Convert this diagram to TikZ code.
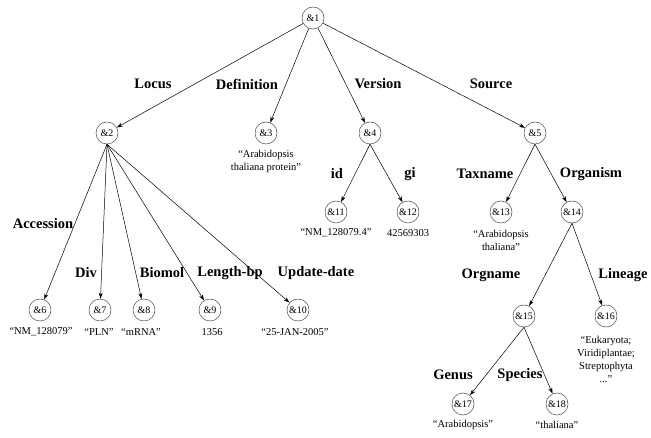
\documentclass[tikz,border=0pt]{standalone}
\usepackage{fontspec}
\setmainfont{Liberation Serif}
\usetikzlibrary{arrows.meta}

\tikzset{
  obj/.style={circle, draw=black!70, line width=0.5pt, minimum size=22pt, inner sep=0pt, font=\fontsize{10}{12}\selectfont},
  lbl/.style={font=\bfseries\fontsize{14.5}{16}\selectfont, inner sep=0pt},
  val/.style={font=\fontsize{10.5}{13}\selectfont, align=center, inner sep=0pt},
  edge/.style={line width=0.5pt, -{Stealth[length=6pt, width=4pt]}}
}

\begin{document}
\begin{tikzpicture}[x=1pt, y=-1pt]
\useasboundingbox (0,0) rectangle (651,438);
% objects
\node[obj] (n1) at (313,18) {\&1};
\node[obj] (n2) at (107,133) {\&2};
\node[obj] (n3) at (266,133) {\&3};
\node[obj] (n4) at (370,133) {\&4};
\node[obj] (n5) at (535,133) {\&5};
\node[obj] (n6) at (40,310) {\&6};
\node[obj] (n7) at (100,310) {\&7};
\node[obj] (n8) at (144,310) {\&8};
\node[obj] (n9) at (210,310) {\&9};
\node[obj] (n10) at (298,310) {\&10};
\node[obj] (n11) at (336,212) {\&11};
\node[obj] (n12) at (408,212) {\&12};
\node[obj] (n13) at (501,212) {\&13};
\node[obj] (n14) at (572,212) {\&14};
\node[obj] (n15) at (524,316) {\&15};
\node[obj] (n16) at (606,316) {\&16};
\node[obj] (n17) at (463,404) {\&17};
\node[obj] (n18) at (557,404) {\&18};
% values
\node[val] (v3) at (266,161.5) {“Arabidopsis\\thaliana protein”};
\node[val] (v6) at (41,332) {“NM\_128079”};
\node[val] (v7) at (99,332) {“PLN”};
\node[val] (v8) at (141,332) {“mRNA”};
\node[val] (v9) at (212,332) {1356};
\node[val] (v10) at (295,332) {“25-JAN-2005”};
\node[val] (v11) at (336,233) {“NM\_128079.4”};
\node[val] (v12) at (408,233) {42569303};
\node[val] (v13) at (501,240.5) {“Arabidopsis\\thaliana”};
\node[val] (v16) at (606,359) {“Eukaryota;\\Viridiplantae;\\Streptophyta\\...”};
\node[val] (v17) at (463,425) {“Arabidopsis”};
\node[val] (v18) at (557,425) {“thaliana”};
% edges
\draw[edge] (n1) -- (n2);
\draw[edge] (n1) -- (n3);
\draw[edge] (n1) -- (n4);
\draw[edge] (n1) -- (n5);
\foreach \c in {6,7,8,9,10}
  \draw[edge] (n2.south) -- (n\c);
\draw[edge] (n4.south) -- (n11);
\draw[edge] (n4.south) -- (n12);
\draw[edge] (n5.south) -- (n13);
\draw[edge] (n5.south) -- (n14);
\draw[edge] (n14.south) -- (n15);
\draw[edge] (n14.south) -- (n16);
\draw[edge] (n15.south) -- (n17);
\draw[edge] (n15.south) -- (n18);
% edge labels
\node[lbl] (lLocus) at (153,84) {Locus};
\node[lbl] (lDef) at (247,84) {Definition};
\node[lbl] (lVer) at (378,84) {Version};
\node[lbl] (lSrc) at (491,84) {Source};
\node[lbl] (lAcc) at (43,224) {Accession};
\node[lbl] (lDiv) at (86,273) {Div};
\node[lbl] (lBio) at (162,273) {Biomol};
\node[lbl] (lLen) at (230,273) {Length-bp};
\node[lbl] (lUpd) at (316,273) {Update-date};
\node[lbl] (lId) at (337,174) {id};
\node[lbl] (lGi) at (410,174) {gi};
\node[lbl] (lTax) at (485,174) {Taxname};
\node[lbl] (lOrg) at (591,174) {Organism};
\node[lbl] (lOrgn) at (491,275) {Orgname};
\node[lbl] (lLin) at (623,275) {Lineage};
\node[lbl] (lGen) at (453,375) {Genus};
\node[lbl] (lSpe) at (520,375) {Species};
\end{tikzpicture}
\end{document}
